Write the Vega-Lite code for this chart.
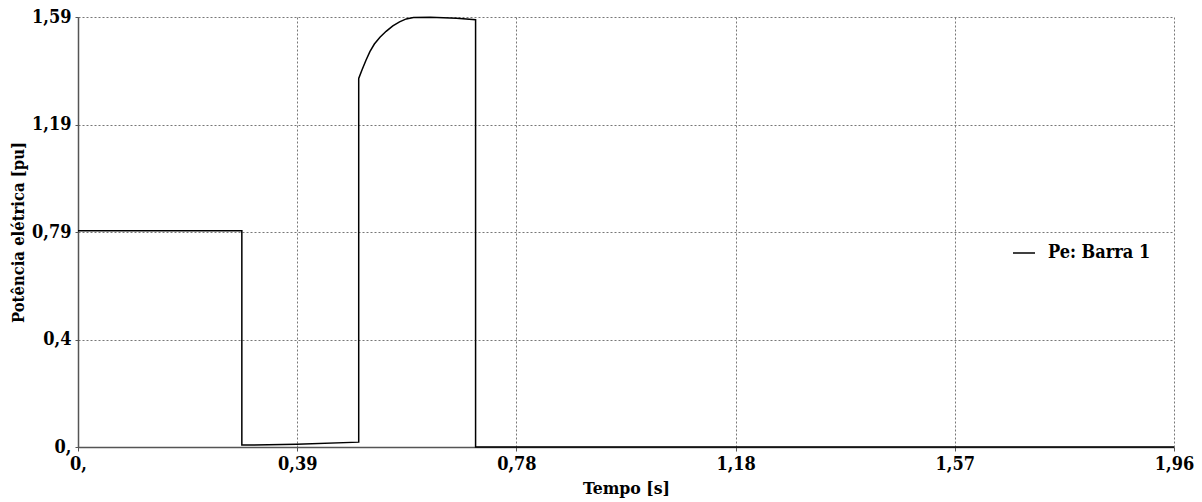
{
  "$schema": "https://vega.github.io/schema/vega-lite/v6.json",
  "width": 1096,
  "height": 430,
  "autosize": {"type": "none"},
  "padding": {"left": 78, "top": 17, "right": 28, "bottom": 55},
  "background": "white",
  "config": {
    "view": {"stroke": null},
    "font": "DejaVu Serif Condensed"
  },
  "data": {
    "values": [
      {"i": 0, "t": 0.0, "p": 0.80, "serie": "Pe: Barra 1"},
      {"i": 1, "t": 0.293, "p": 0.80, "serie": "Pe: Barra 1"},
      {"i": 2, "t": 0.293, "p": 0.007, "serie": "Pe: Barra 1"},
      {"i": 3, "t": 0.391, "p": 0.010, "serie": "Pe: Barra 1"},
      {"i": 4, "t": 0.502, "p": 0.018, "serie": "Pe: Barra 1"},
      {"i": 5, "t": 0.502, "p": 1.363, "serie": "Pe: Barra 1"},
      {"i": 6, "t": 0.508, "p": 1.395, "serie": "Pe: Barra 1"},
      {"i": 7, "t": 0.515, "p": 1.430, "serie": "Pe: Barra 1"},
      {"i": 8, "t": 0.522, "p": 1.462, "serie": "Pe: Barra 1"},
      {"i": 9, "t": 0.530, "p": 1.490, "serie": "Pe: Barra 1"},
      {"i": 10, "t": 0.540, "p": 1.515, "serie": "Pe: Barra 1"},
      {"i": 11, "t": 0.551, "p": 1.537, "serie": "Pe: Barra 1"},
      {"i": 12, "t": 0.563, "p": 1.557, "serie": "Pe: Barra 1"},
      {"i": 13, "t": 0.575, "p": 1.572, "serie": "Pe: Barra 1"},
      {"i": 14, "t": 0.587, "p": 1.583, "serie": "Pe: Barra 1"},
      {"i": 15, "t": 0.600, "p": 1.588, "serie": "Pe: Barra 1"},
      {"i": 16, "t": 0.630, "p": 1.589, "serie": "Pe: Barra 1"},
      {"i": 17, "t": 0.677, "p": 1.585, "serie": "Pe: Barra 1"},
      {"i": 18, "t": 0.711, "p": 1.580, "serie": "Pe: Barra 1"},
      {"i": 19, "t": 0.711, "p": 0.0, "serie": "Pe: Barra 1"},
      {"i": 20, "t": 1.96, "p": 0.0, "serie": "Pe: Barra 1"}
    ]
  },
  "mark": {"type": "line", "strokeWidth": 1.5, "interpolate": "linear"},
  "encoding": {
    "x": {
      "field": "t",
      "type": "quantitative",
      "scale": {"domain": [0, 1.96], "nice": false, "zero": false},
      "axis": {
        "title": "Tempo [s]",
        "values": [0, 0.392, 0.784, 1.176, 1.568, 1.96],
        "format": ".2f",
        "labelExpr": "datum.value == 0 ? '0,' : replace(datum.label, '.', ',')",
        "labelFont": "DejaVu Serif Condensed",
        "labelFontWeight": "bold",
        "labelFontSize": 18,
        "labelColor": "#000",
        "labelPadding": 4,
        "labelFlush": false,
        "tickSize": 4,
        "tickColor": "#555",
        "domainColor": "#555",
        "domainWidth": 1.5,
        "grid": true,
        "gridColor": "#777",
        "gridDash": [2, 2],
        "gridWidth": 1,
        "titleFont": "DejaVu Serif Condensed",
        "titleFontWeight": "bold",
        "titleFontSize": 17.5,
        "titleColor": "#000",
        "titlePadding": 6
      }
    },
    "y": {
      "field": "p",
      "type": "quantitative",
      "scale": {"domain": [0, 1.59], "nice": false},
      "axis": {
        "title": "Potência elétrica [pu]",
        "values": [0, 0.3975, 0.795, 1.1925, 1.59],
        "labelExpr": "datum.value == 0 ? '0,' : datum.value < 0.5 ? '0,4' : datum.value < 1 ? '0,79' : datum.value < 1.3 ? '1,19' : '1,59'",
        "labelFont": "DejaVu Serif Condensed",
        "labelFontWeight": "bold",
        "labelFontSize": 18,
        "labelColor": "#000",
        "labelPadding": 4,
        "labelFlush": false,
        "tickSize": 3,
        "tickColor": "#555",
        "domainColor": "#555",
        "domainWidth": 1.5,
        "grid": true,
        "gridColor": "#777",
        "gridDash": [2, 2],
        "gridWidth": 1,
        "titleFont": "DejaVu Serif Condensed",
        "titleFontWeight": "bold",
        "titleFontSize": 16.5,
        "titleColor": "#000",
        "titlePadding": 5
      }
    },
    "color": {
      "field": "serie",
      "type": "nominal",
      "scale": {"range": ["#000000"]},
      "legend": {
        "title": null,
        "orient": "none",
        "legendX": 934,
        "legendY": 224,
        "padding": 0,
        "symbolType": "stroke",
        "symbolSize": 484,
        "symbolStrokeWidth": 1.5,
        "labelFont": "DejaVu Serif Condensed",
        "labelFontWeight": "bold",
        "labelFontSize": 18,
        "labelColor": "#000",
        "labelOffset": 12
      }
    },
    "order": {"field": "i", "type": "quantitative"}
  }
}
